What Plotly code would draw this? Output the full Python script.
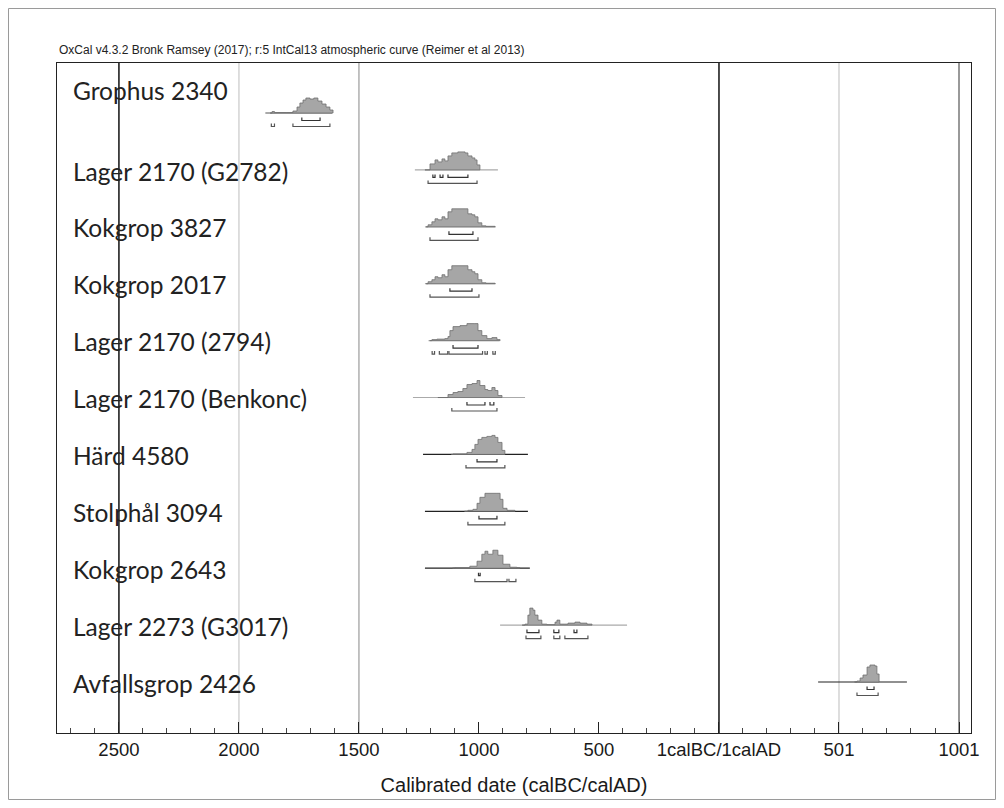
import plotly.graph_objects as go

# ---------------- data (years: negative = calBC, positive = calAD) ----------------
labels = ["Grophus 2340", "Lager 2170 (G2782)", "Kokgrop 3827", "Kokgrop 2017",
          "Lager 2170 (2794)", "Lager 2170 (Benkonc)", "Härd 4580", "Stolphål 3094",
          "Kokgrop 2643", "Lager 2273 (G3017)", "Avfallsgrop 2426"]

grophus_years = [-1870, -1862, -1852, -1800, -1775, -1758, -1746, -1733, -1721, -1704, -1688, -1671, -1654, -1637, -1621, -1608]
grophus_dens = [0, 1.5, 0.5, 0.5, 2, 6, 10, 13, 15, 14, 15, 12, 9, 6, 3, 0]

g2782_years = [-1225, -1204, -1183, -1171, -1154, -1142, -1129, -1113, -1088, -1058, -1046, -1029, -1017, -1008, -996]
g2782_dens = [0, 6, 10, 8, 11, 9, 14, 17, 18, 17, 14, 12, 10, 5, 0]

k3827_years = [-1220, -1212, -1196, -1183, -1171, -1154, -1142, -1129, -1113, -1058, -1046, -1029, -1017, -1004, -988, -971, -946, -933]
k3827_dens = [0, 2, 5, 8, 7, 10, 8, 15, 18, 18, 13, 12, 10, 4, 1, 0.5, 0.5, 0]

k2017_years = [-1220, -1212, -1196, -1183, -1171, -1154, -1142, -1129, -1113, -1058, -1046, -1029, -1017, -1004, -988, -971, -946, -933]
k2017_dens = [0, 2, 4, 7, 6, 9, 7, 14, 18, 18, 14, 12, 10, 4, 1, 0.5, 0.5, 0]

l2794_years = [-1205, -1196, -1175, -1142, -1129, -1121, -1108, -1079, -1050, -1017, -1004, -988, -967, -946, -925, -912]
l2794_dens = [0, 1, 1.5, 2, 4, 10, 14, 15, 17, 17, 10, 5, 2, 3, 1, 0]

benk_years = [-1171, -1129, -1108, -1088, -1067, -1050, -1029, -1008, -996, -975, -963, -946, -933, -921, -904]
benk_dens = [0, 3, 5, 6, 9, 13, 14, 17, 12, 8, 7, 10, 7, 2, 0]

h4580_years = [-1115, -1108, -1050, -1029, -1017, -1004, -988, -967, -946, -933, -921, -904, -892]
h4580_dens = [0, 0.5, 2, 5, 10, 15, 17, 18, 19, 17, 12, 4, 0]

s3094_years = [-1060, -1046, -1025, -1008, -996, -975, -925, -912, -900, -883, -858, -850]
s3094_dens = [0, 1, 2, 8, 14, 18, 18, 12, 3, 1, 1, 0]

k2643_years = [-1110, -1100, -1038, -1008, -988, -975, -963, -942, -921, -900, -871, -842, -830]
k2643_dens = [0, 0.5, 2, 7, 14, 17, 14, 18, 13, 4, 1, 0.5, 0]

g3017_years = [-820, -808, -796, -788, -775, -767, -754, -738, -717, -683, -675, -663, -642, -629, -600, -579, -550, -529]
g3017_dens = [0, 1, 10, 17, 15, 10, 5, 1, 0.5, 3, 5, 1, 1, 2, 3, 2, 1, 0]

a2426_years = [565, 575, 588, 600, 617, 629, 650, 658, 667]
a2426_dens = [0, 1, 4, 7, 15, 17, 16, 8, 0]

dist_years = [grophus_years, g2782_years, k3827_years, k2017_years, l2794_years, benk_years,
              h4580_years, s3094_years, k2643_years, g3017_years, a2426_years]
dist_dens = [grophus_dens, g2782_dens, k3827_dens, k2017_dens, l2794_dens, benk_dens,
             h4580_dens, s3094_dens, k2643_dens, g3017_dens, a2426_dens]

# extent of the likelihood line for each sample
line_start = [-1890, -1267, -1225, -1225, -1210, -1275, -1233, -1225, -1225, -912, 413]
line_end = [-1612, -921, -930, -930, -915, -808, -796, -796, -788, -383, 783]

# 68.2% and 95.4% ranges
range68 = [
    [[-1738, -1662]],
    [[-1192, -1183], [-1162, -1150], [-1129, -1046]],
    [[-1125, -1025]],
    [[-1121, -1029]],
    [[-1108, -1004]],
    [[-1050, -975], [-954, -938]],
    [[-1008, -925]],
    [[-1000, -925]],
    [[-1002, -995]],
    [[-800, -750], [-688, -667], [-604, -592]],
    [[617, 646]],
]
range95 = [
    [[-1865, -1852], [-1775, -1621]],
    [[-1212, -1008]],
    [[-1204, -1004]],
    [[-1204, -1000]],
    [[-1195, -1185], [-1165, -1130], [-1125, -985], [-975, -965], [-942, -932]],
    [[-1113, -925]],
    [[-1054, -892]],
    [[-1046, -892]],
    [[-1017, -883], [-875, -846]],
    [[-804, -742], [-688, -663], [-642, -546]],
    [[575, 663]],
]

tick_vals = [-2500, -2000, -1500, -1000, -500, 0, 500, 1000]
tick_text = ["2500", "2000", "1500", "1000", "500", "1calBC/1calAD", "501", "1001"]
grid_vals = [-2500, -2000, -1500, 0, 500, 1000]
grid_colors = ["#111111", "#c8c8c8", "#9a9a9a", "#111111", "#c8c8c8", "#555555"]

header = "OxCal v4.3.2 Bronk Ramsey (2017); r:5 IntCal13 atmospheric curve (Reimer et al 2013)"
x_title = "Calibrated date (calBC/calAD)"

# ---------------- style ----------------
ROW_PX = 56.9
D = 1.0 / ROW_PX          # density unit -> row units
OFF68 = 7.5 / ROW_PX
OFF95 = 13.5 / ROW_PX
TICK = 3.0 / ROW_PX
line_colors = ["#555555", "#aaaaaa", "#aaaaaa", "#aaaaaa", "#aaaaaa", "#aaaaaa",
               "#222222", "#222222", "#222222", "#aaaaaa", "#222222"]

W, H = 988, 792
ML, MR, MT, MB = 49, 25, 55, 67
PW, PH = W - ML - MR, H - MT - MB

fig = go.Figure()
n = len(labels)
for i in range(n):
    base = i
    fig.add_trace(go.Scatter(x=[line_start[i], line_end[i]], y=[base, base], mode="lines",
                             line=dict(color=line_colors[i], width=1.2), hoverinfo="skip", showlegend=False))
    xs = list(dist_years[i]) + [dist_years[i][-1], dist_years[i][0]]
    ys = [base - d * D for d in dist_dens[i]] + [base, base]
    fig.add_trace(go.Scatter(x=xs, y=ys, mode="lines", fill="toself", fillcolor="#a6a6a6",
                             line=dict(color="#6e6e6e", width=0.8, shape="hv"),
                             hoverinfo="skip", showlegend=False))
    for rngs, off, col in ((range68[i], OFF68, "#333333"), (range95[i], OFF95, "#555555")):
        bx, by = [], []
        yb = base + off
        for a, b in rngs:
            bx += [a, a, b, b, None]
            by += [yb - TICK, yb, yb, yb - TICK, None]
        fig.add_trace(go.Scatter(x=bx, y=by, mode="lines", line=dict(color=col, width=1.2),
                                 hoverinfo="skip", showlegend=False))

for i, lab in enumerate(labels):
    yl = i - 0.4 if i == 0 else i + 0.02
    fig.add_annotation(x=14 / PW, xref="paper", y=yl, yref="y", text=lab, showarrow=False,
                       xanchor="left", yanchor="middle",
                       font=dict(family="Lato", size=24.5, color="#222222"))

shapes = []
for v, c in zip(grid_vals, grid_colors):
    shapes.append(dict(type="line", xref="x", yref="paper", x0=v, x1=v, y0=0, y1=1,
                       line=dict(color=c, width=1.5 if c == "#111111" else 1.2), layer="below"))
shapes.append(dict(type="rect", xref="paper", yref="paper",
                   x0=-(ML - 0.5) / PW, x1=1 + (MR - 0.5) / PW,
                   y0=-(MB - 0.5) / PH, y1=1 + (MT - 0.5) / PH,
                   line=dict(color="#9a9a9a", width=1)))
fig.update_layout(shapes=shapes)

fig.add_annotation(x=0, xref="paper", y=1.006, yref="paper", text=header, showarrow=False,
                   xanchor="left", yanchor="bottom", font=dict(family="Liberation Sans", size=12, color="#222"))

fig.update_xaxes(range=[-2758, 1050], tickmode="array", tickvals=tick_vals, ticktext=tick_text,
                 ticks="inside", ticklen=11, tickcolor="#222", tickwidth=1,
                 showgrid=False, zeroline=False, showline=True, linecolor="#222", linewidth=1.2, mirror=True,
                 tickfont=dict(family="Liberation Sans", size=18.5, color="#1a1a1a"),
                 minor=dict(tickmode="linear", tick0=-2500, dtick=100, ticks="inside", ticklen=5,
                            tickcolor="#444", showgrid=False),
                 title=dict(text=x_title, font=dict(family="Liberation Sans", size=20, color="#1a1a1a"), standoff=18))
fig.update_yaxes(range=[10.896, -0.879], showticklabels=False, ticks="", showgrid=False, zeroline=False,
                 showline=True, linecolor="#222", linewidth=1.2, mirror=True)

fig.update_layout(width=W, height=H, margin=dict(l=ML, r=MR, t=MT, b=MB, autoexpand=False),
                  paper_bgcolor="white", plot_bgcolor="white")

fig.write_html("out.html")
